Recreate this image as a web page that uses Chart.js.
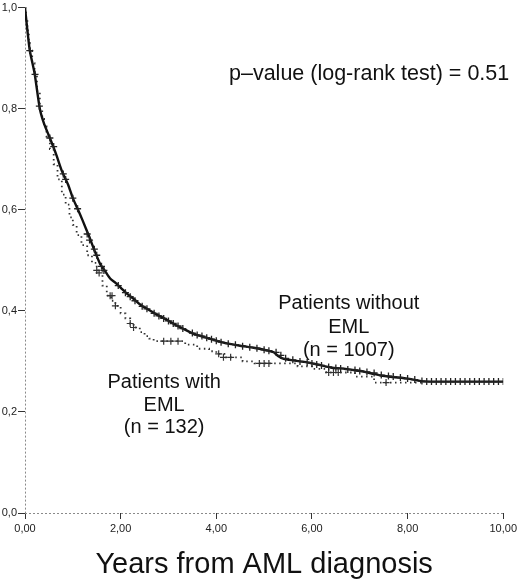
<!DOCTYPE html>
<html>
<head>
<meta charset="utf-8">
<script src="https://cdn.jsdelivr.net/npm/chart.js@4/dist/chart.umd.min.js"></script>
<style>
html,body{margin:0;padding:0;background:#fff;}
#wrap{width:520px;height:584px;position:relative;}
</style>
</head>
<body>
<div id="wrap"><canvas id="c"></canvas></div>
<script>
// Kaplan-Meier: patients without EML (n = 1007)
const withoutT = [0,0.05,0.1,0.2,0.31,0.4,0.52,0.65,0.77,0.9,1.0,1.09,1.2,1.35,1.45,1.57,1.68,1.78,1.9,2.0,2.13,2.27,2.4,2.55,2.75,2.97,3.15,3.3,3.52,3.75,4.0,4.2,4.5,4.78,5.0,5.2,5.3,5.41,5.6,5.9,6.15,6.39,6.7,7.02,7.25,7.44,7.7,8.0,8.28,8.6,9.0,9.5,10.0];
const withoutS = [1.0,0.955,0.915,0.87,0.80,0.77,0.742,0.71,0.677,0.65,0.623,0.604,0.58,0.545,0.52,0.493,0.478,0.464,0.455,0.446,0.434,0.424,0.413,0.404,0.393,0.382,0.372,0.365,0.355,0.348,0.341,0.336,0.331,0.327,0.323,0.318,0.31,0.305,0.302,0.298,0.293,0.288,0.285,0.281,0.276,0.272,0.269,0.266,0.261,0.26,0.26,0.26,0.26];
// Kaplan-Meier: patients with EML (n = 132)
const withT = [0,0.02,0.05,0.08,0.1,0.15,0.2,0.25,0.31,0.36,0.4,0.45,0.52,0.6,0.68,0.77,0.85,0.93,1.0,1.08,1.18,1.3,1.4,1.5,1.62,1.71,1.8,1.89,2.0,2.1,2.2,2.27,2.4,2.5,2.6,2.69,3.35,3.6,3.85,4.0,4.2,4.55,4.8,5.7,6.0,6.3,6.9,7.3,8.3];
const withS = [1.0,0.98,0.955,0.93,0.915,0.89,0.87,0.835,0.80,0.78,0.765,0.745,0.72,0.69,0.66,0.63,0.61,0.585,0.57,0.55,0.53,0.51,0.495,0.48,0.45,0.43,0.42,0.41,0.395,0.385,0.375,0.367,0.358,0.35,0.345,0.34,0.333,0.325,0.32,0.315,0.308,0.30,0.296,0.29,0.285,0.278,0.27,0.258,0.258];
// Censored observations (+)
const censorWithoutT = [0.1,0.21,0.3,0.52,0.6,0.8,0.85,1.0,1.1,1.3,1.35,1.45,1.5,1.6,1.65,1.95,2.1,2.2,2.3,2.45,2.55,2.7,2.8,2.9,3.0,3.1,3.2,3.3,3.5,3.6,3.7,3.8,3.9,4.0,4.1,4.25,4.4,4.55,4.7,4.85,5.0,5.1,5.25,5.35,5.45,5.6,5.75,5.9,6.0,6.1,6.2,6.35,6.5,6.6,6.75,6.9,7.0,7.15,7.3,7.45,7.6,7.7,7.85,8.0,8.15,8.3,8.4,8.5,8.6,8.7,8.8,8.9,9.0,9.1,9.2,9.3,9.4,9.5,9.6,9.7,9.8,9.9,10.0];
const censorWithoutS = [0.915,0.868,0.805,0.742,0.725,0.671,0.66,0.623,0.602,0.552,0.54,0.522,0.51,0.488,0.48,0.45,0.436,0.428,0.42,0.409,0.404,0.395,0.39,0.385,0.38,0.375,0.37,0.365,0.356,0.352,0.35,0.347,0.344,0.341,0.338,0.335,0.333,0.33,0.328,0.326,0.323,0.321,0.318,0.312,0.306,0.303,0.3,0.298,0.296,0.294,0.292,0.289,0.287,0.286,0.284,0.283,0.281,0.279,0.277,0.273,0.271,0.27,0.268,0.266,0.264,0.261,0.26,0.26,0.26,0.26,0.26,0.26,0.26,0.26,0.26,0.26,0.26,0.26,0.26,0.26,0.26,0.26,0.26];
const censorWithT = [1.5,1.55,1.78,1.82,1.89,2.2,2.27,2.9,3.05,3.2,4.05,4.15,4.3,4.9,5.0,5.1,6.35,6.45,6.55,7.55];
const censorWithS = [0.48,0.475,0.43,0.43,0.41,0.375,0.367,0.34,0.34,0.34,0.315,0.308,0.308,0.296,0.296,0.296,0.278,0.278,0.278,0.258];
// Axis tick labels
const xTickLabels = ['0,00','2,00','4,00','6,00','8,00','10,00'];
const yTickLabels = ['0,0','0,2','0,4','0,6','0,8','1,0'];

const pts = (xs, ys) => xs.map((x, i) => ({x: x, y: ys[i]}));
const FONT = "'Liberation Sans', Arial, Helvetica, sans-serif";

// dotted axis lines (left and bottom), as in the original SPSS plot
const axisPlugin = {
  id: 'dottedAxes',
  beforeDatasetsDraw(chart) {
    const {ctx, chartArea: a} = chart;
    ctx.save();
    ctx.strokeStyle = '#8a8a8a';
    ctx.lineWidth = 1;
    ctx.setLineDash([2, 2]);
    ctx.beginPath();
    ctx.moveTo(a.left + 0.5, a.top);
    ctx.lineTo(a.left + 0.5, a.bottom);
    ctx.moveTo(a.left, a.bottom + 0.5);
    ctx.lineTo(a.right, a.bottom + 0.5);
    ctx.stroke();
    ctx.restore();
  }
};

const textPlugin = {
  id: 'annot',
  afterDatasetsDraw(chart) {
    const {ctx, scales: {x, y}} = chart;
    ctx.save();
    ctx.fillStyle = '#111';
    ctx.textBaseline = 'middle';
    ctx.textAlign = 'right';
    ctx.font = '21.5px ' + FONT;
    ctx.fillText('p\u2013value (log-rank test) = 0.51', x.getPixelForValue(10) + 6, y.getPixelForValue(0.868));
    ctx.textAlign = 'center';
    ctx.font = '20px ' + FONT;
    const a = x.getPixelForValue(6.77);
    ctx.fillText('Patients without', a, y.getPixelForValue(0.414));
    ctx.fillText('EML', a, y.getPixelForValue(0.367));
    ctx.fillText('(n = 1007)', a, y.getPixelForValue(0.321));
    const b = x.getPixelForValue(2.91);
    ctx.fillText('Patients with', b, y.getPixelForValue(0.259));
    ctx.fillText('EML', b, y.getPixelForValue(0.213));
    ctx.fillText('(n = 132)', b, y.getPixelForValue(0.170));
    ctx.restore();
  }
};

new Chart(document.getElementById('c'), {
  type: 'scatter',
  data: {
    datasets: [
      {
        type: 'line', data: pts(withT, withS), stepped: true,
        borderColor: '#333', borderWidth: 1.8, borderDash: [1.5, 3.5],
        pointRadius: 0, fill: false, order: 3
      },
      {
        type: 'line', data: pts(withoutT, withoutS),
        borderColor: '#111', borderWidth: 2.4, tension: 0.2,
        pointRadius: 0, fill: false, order: 2
      },
      {
        data: pts(censorWithT, censorWithS), pointStyle: 'cross',
        pointRadius: 3.5, borderColor: '#333', borderWidth: 1.2, order: 1
      },
      {
        data: pts(censorWithoutT, censorWithoutS), pointStyle: 'cross',
        pointRadius: 3.5, borderColor: '#222', borderWidth: 1.3, order: 0
      }
    ]
  },
  options: {
    responsive: true, maintainAspectRatio: false, animation: false,
    layout: {padding: {left: 0, right: 0, top: 0, bottom: 0}},
    plugins: {legend: {display: false}, tooltip: {enabled: false}},
    scales: {
      x: {
        type: 'linear', min: 0, max: 10,
        afterFit: s => { s.height = 71; },
        ticks: {stepSize: 2, color: '#222', padding: 3, font: {size: 11, family: FONT},
          maxRotation: 0, callback: (v, i) => xTickLabels[i]},
        grid: {drawOnChartArea: false, drawTicks: true, tickLength: 6, color: '#333'},
        border: {display: false},
        title: {display: true, text: 'Years from AML diagnosis', color: '#111',
          font: {size: 29, family: FONT}, padding: {top: 0, bottom: 2}}
      },
      y: {
        type: 'linear', min: 0, max: 1,
        afterFit: s => { s.width = 25; },
        ticks: {stepSize: 0.2, color: '#222', padding: 1, font: {size: 11, family: FONT},
          callback: (v, i) => yTickLabels[i]},
        grid: {drawOnChartArea: false, drawTicks: true, tickLength: 7, color: '#333'},
        border: {display: false}
      }
    }
  },
  plugins: [axisPlugin, textPlugin]
});
</script>
</body>
</html>
